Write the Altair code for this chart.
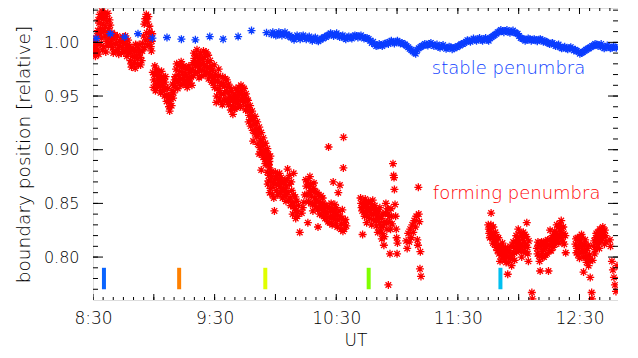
import altair as alt
import pandas as pd

# ---- data (time in minutes after 08:30 UT, relative boundary position) ----
forming_penumbra = [
    (0.3, 0.990), (0.8, 0.995), (1.2, 0.987), (1.7, 1.000), (2.2, 0.993), (2.6, 1.021), (3.0, 1.018),
    (3.3, 1.026), (3.7, 1.013), (4.1, 1.023), (4.5, 1.029), (4.9, 1.017), (5.3, 1.022), (5.7, 1.027),
    (6.1, 1.014), (6.5, 1.024), (6.9, 1.019), (7.3, 1.027), (7.7, 1.013), (8.1, 1.021), (8.5, 1.016),
    (3.5, 0.998), (4.3, 1.004), (5.2, 0.996), (6.0, 1.006), (6.8, 1.001), (7.5, 0.997), (8.3, 1.008),
    (9.0, 1.002), (9.6, 0.995), (10.3, 1.004), (11.0, 0.998), (11.6, 1.000), (12.3, 0.993), (13.0, 0.997),
    (13.7, 1.003), (14.3, 0.995), (15.0, 0.999), (15.7, 1.002), (16.3, 0.994), (17.0, 0.998),
    (17.5, 0.990), (18.0, 0.996), (18.5, 0.983), (19.0, 0.977), (19.5, 0.987), (20.0, 0.993), (20.5, 0.981),
    (21.0, 0.998), (21.5, 0.988), (22.0, 0.985), (22.5, 0.994), (23.0, 0.990), (23.5, 0.979), (24.0, 0.983),
    (24.5, 0.999), (25.0, 1.006), (25.3, 1.017), (25.8, 1.022), (26.3, 1.026), (26.8, 1.019), (27.3, 1.024),
    (27.8, 1.015), (25.5, 0.995), (26.0, 1.002), (26.5, 1.009), (27.0, 0.998), (27.5, 1.004), (28.0, 1.010),
    (28.5, 0.996), (29.0, 1.001),
    (0.5, 1.002), (1.0, 0.997), (1.5, 0.992), (2.0, 1.006), (2.4, 1.011), (2.8, 0.989), (3.2, 1.008),
    (4.0, 1.010), (4.7, 0.993), (5.5, 1.011), (6.3, 0.991), (7.1, 1.009), (7.9, 1.004), (8.7, 0.999),
    (9.3, 1.009), (10.0, 0.990), (10.7, 1.007), (11.3, 0.992), (12.0, 1.006), (12.7, 0.989), (13.3, 1.001),
    (14.0, 0.990), (14.7, 1.005), (15.3, 0.991), (16.0, 1.006), (16.7, 0.987), (17.3, 1.002), (18.2, 0.991),
    (18.8, 0.980), (19.3, 0.995), (20.2, 0.986), (20.8, 0.976), (21.3, 0.992), (22.2, 0.979), (22.8, 0.998),
    (23.3, 0.986), (24.3, 0.992), (28.3, 1.005), (28.8, 0.992), (29.2, 1.008),
    (29.5, 0.972), (30.0, 0.965), (30.5, 0.978), (31.0, 0.961), (31.5, 0.970), (32.0, 0.966), (32.5, 0.973),
    (33.0, 0.959), (33.5, 0.964), (34.0, 0.968), (34.5, 0.961), (35.0, 0.956), (35.5, 0.963), (36.0, 0.958),
    (36.5, 0.951), (37.0, 0.946), (37.5, 0.940), (38.0, 0.943), (38.5, 0.950), (39.0, 0.955), (39.5, 0.948),
    (40.0, 0.960),
    (40.5, 0.968), (41.0, 0.975), (41.5, 0.963), (42.0, 0.970), (42.5, 0.979), (43.0, 0.966), (43.5, 0.982),
    (44.0, 0.972), (44.5, 0.961), (45.0, 0.969), (45.5, 0.976), (46.0, 0.964), (46.5, 0.958), (47.0, 0.967),
    (47.5, 0.972), (48.0, 0.962), (48.5, 0.968), (49.0, 0.975), (49.5, 0.981),
    (50.0, 0.985), (50.5, 0.978), (51.0, 0.988), (51.5, 0.972), (52.0, 0.983), (52.5, 0.976), (53.0, 0.990),
    (53.5, 0.969), (54.0, 0.984), (54.5, 0.992), (55.0, 0.978), (55.5, 0.987), (56.0, 0.973), (56.5, 0.982),
    (57.0, 0.966), (57.5, 0.976), (58.0, 0.970), (58.5, 0.963), (59.0, 0.974), (59.5, 0.967),
    (29.8, 0.958), (30.3, 0.970), (30.8, 0.955), (31.3, 0.975), (31.8, 0.958), (32.3, 0.962), (32.8, 0.969),
    (33.3, 0.953), (33.8, 0.973), (34.3, 0.955), (34.8, 0.966), (35.3, 0.950), (35.8, 0.968), (36.3, 0.945),
    (36.8, 0.957), (37.3, 0.950), (37.8, 0.936), (38.3, 0.947), (38.8, 0.941), (39.3, 0.961), (39.8, 0.953),
    (40.3, 0.965), (40.8, 0.958), (41.3, 0.980), (41.8, 0.957), (42.3, 0.964), (42.8, 0.973), (43.3, 0.960),
    (43.8, 0.977), (44.3, 0.966), (44.8, 0.978), (45.3, 0.962), (45.8, 0.970), (46.3, 0.975), (46.8, 0.961),
    (47.3, 0.978), (47.8, 0.966), (48.3, 0.974), (48.8, 0.960), (49.3, 0.969), (49.8, 0.990), (50.3, 0.972),
    (50.8, 0.982), (51.3, 0.993), (51.8, 0.979), (52.3, 0.967), (52.8, 0.986), (53.3, 0.980), (53.8, 0.974),
    (54.3, 0.980), (54.8, 0.986), (55.3, 0.970), (55.8, 0.991), (56.3, 0.977), (56.8, 0.988), (57.3, 0.971),
    (57.8, 0.983), (58.3, 0.978), (58.8, 0.969), (59.3, 0.962), (59.8, 0.979),
    (60.0, 0.958), (60.5, 0.970), (61.0, 0.950), (61.5, 0.964), (62.0, 0.975), (62.5, 0.955), (63.0, 0.945),
    (63.5, 0.962), (64.0, 0.968), (64.5, 0.952), (65.0, 0.959), (65.5, 0.947), (66.0, 0.965), (66.5, 0.954),
    (67.0, 0.942), (67.5, 0.958), (68.0, 0.937), (68.5, 0.948), (69.0, 0.933), (69.5, 0.952), (70.0, 0.944),
    (70.5, 0.957), (71.0, 0.939), (71.5, 0.950),
    (72.0, 0.958), (72.5, 0.946), (73.0, 0.960), (73.5, 0.953), (74.0, 0.949), (74.5, 0.957), (75.0, 0.944),
    (75.5, 0.952), (76.0, 0.938), (76.5, 0.946), (77.0, 0.932), (77.5, 0.941), (78.0, 0.928), (78.5, 0.936),
    (79.0, 0.908), (79.5, 0.924), (80.0, 0.931), (80.5, 0.919), (81.0, 0.926), (81.5, 0.914), (82.0, 0.921),
    (82.5, 0.909), (83.0, 0.916), (83.5, 0.903), (84.0, 0.911), (84.5, 0.898), (85.0, 0.906), (85.5, 0.893),
    (86.0, 0.901), (86.5, 0.896), (87.0, 0.889), (87.5, 0.894),
    (60.3, 0.964), (60.8, 0.944), (61.3, 0.957), (61.8, 0.969), (62.3, 0.948), (62.8, 0.960), (63.3, 0.952),
    (63.8, 0.942), (64.3, 0.961), (64.8, 0.946), (65.3, 0.966), (65.8, 0.955), (66.3, 0.944), (66.8, 0.961),
    (67.3, 0.950), (67.8, 0.946), (68.3, 0.955), (68.8, 0.941), (69.3, 0.946), (69.8, 0.938), (70.3, 0.950),
    (70.8, 0.946), (71.3, 0.955), (71.8, 0.942), (72.3, 0.952), (72.8, 0.940), (73.3, 0.947), (73.8, 0.958),
    (74.3, 0.944), (74.8, 0.951), (75.3, 0.937), (75.8, 0.947), (76.3, 0.941), (76.8, 0.926), (77.3, 0.936),
    (77.8, 0.922), (78.3, 0.931), (78.8, 0.918), (79.3, 0.929), (79.8, 0.915), (80.3, 0.924), (80.8, 0.912),
    (81.3, 0.905), (81.8, 0.917), (82.3, 0.902), (82.8, 0.898), (83.3, 0.907), (83.8, 0.895), (84.3, 0.904),
    (84.8, 0.891), (85.3, 0.899), (85.8, 0.887), (86.3, 0.892), (86.8, 0.886), (87.3, 0.878),
    (82.0, 0.896), (83.0, 0.881), (84.0, 0.893), (85.0, 0.887), (86.0, 0.879), (86.5, 0.871), (87.0, 0.883),
    (87.5, 0.864), (88.0, 0.875), (88.5, 0.858), (89.0, 0.869), (89.5, 0.843), (90.0, 0.879), (90.5, 0.862),
    (91.0, 0.873), (91.5, 0.867), (92.0, 0.878), (92.5, 0.860), (93.0, 0.869), (93.5, 0.855), (94.0, 0.864),
    (94.5, 0.870), (95.0, 0.858), (95.5, 0.866), (96.0, 0.882), (96.5, 0.853), (97.0, 0.876), (97.5, 0.848),
    (98.0, 0.862), (98.5, 0.840), (99.0, 0.878), (99.5, 0.845), (100.0, 0.836), (100.5, 0.852), (101.0, 0.842),
    (102.0, 0.823),
    (86.2, 0.868), (86.8, 0.876), (87.2, 0.860), (87.8, 0.871), (88.2, 0.880), (88.8, 0.865), (89.2, 0.855),
    (89.8, 0.873), (90.2, 0.868), (90.8, 0.876), (91.2, 0.858), (91.8, 0.872), (92.2, 0.866), (92.8, 0.874),
    (93.2, 0.862), (93.8, 0.870), (94.2, 0.857), (94.8, 0.862), (95.2, 0.852), (95.8, 0.873), (96.2, 0.860),
    (96.8, 0.868), (97.2, 0.855), (97.8, 0.870), (98.2, 0.851), (98.8, 0.858), (99.2, 0.848), (99.8, 0.856),
    (100.2, 0.843), (100.8, 0.838), (101.3, 0.848),
    (103.0, 0.841), (104.0, 0.851), (105.0, 0.872), (105.5, 0.858), (106.0, 0.832), (106.5, 0.866),
    (107.0, 0.875), (107.5, 0.850), (108.0, 0.862), (108.5, 0.843), (109.0, 0.869), (109.5, 0.855),
    (110.0, 0.847), (110.5, 0.860), (111.0, 0.828), (111.5, 0.852), (112.0, 0.845), (112.5, 0.857),
    (113.0, 0.839), (113.5, 0.850), (114.0, 0.843), (114.5, 0.836), (115.0, 0.848), (115.5, 0.841),
    (116.0, 0.833), (116.2, 0.9025), (116.5, 0.846), (117.0, 0.838), (117.5, 0.850), (118.0, 0.830),
    (118.5, 0.870), (119.0, 0.842), (119.5, 0.835), (120.0, 0.846), (120.5, 0.828), (121.0, 0.860),
    (121.8, 0.867), (122.0, 0.838), (122.5, 0.831), (123.0, 0.844), (123.5, 0.883), (123.6, 0.9115),
    (124.0, 0.826), (124.5, 0.835), (125.0, 0.829),
    (103.5, 0.846), (104.5, 0.858), (105.2, 0.866), (105.8, 0.870), (106.3, 0.852), (106.8, 0.860),
    (107.3, 0.868), (107.8, 0.857), (108.3, 0.849), (108.8, 0.864), (109.3, 0.850), (109.8, 0.861),
    (110.3, 0.853), (110.8, 0.844), (111.3, 0.858), (111.8, 0.840), (112.3, 0.850), (112.8, 0.846),
    (113.3, 0.855), (113.8, 0.838), (114.3, 0.848), (114.8, 0.842), (115.3, 0.836), (115.8, 0.847),
    (116.8, 0.832), (117.3, 0.843), (117.8, 0.836), (118.3, 0.845), (118.8, 0.838), (119.3, 0.849),
    (119.8, 0.831), (120.3, 0.840), (120.8, 0.835), (121.3, 0.843), (122.3, 0.826), (122.8, 0.836),
    (123.3, 0.824), (124.3, 0.832),
    (132.0, 0.855), (132.5, 0.846), (133.0, 0.821), (133.5, 0.851), (134.0, 0.838), (134.5, 0.847),
    (135.0, 0.832), (135.5, 0.843), (136.0, 0.852), (136.5, 0.836), (137.0, 0.846), (137.5, 0.830),
    (138.0, 0.853), (138.5, 0.840), (139.0, 0.848), (139.5, 0.834), (140.0, 0.843), (140.5, 0.823),
    (141.0, 0.838), (141.5, 0.846), (142.0, 0.829), (142.5, 0.817), (143.0, 0.840), (143.5, 0.811),
    (144.0, 0.833), (144.5, 0.850), (145.0, 0.826), (145.5, 0.840), (145.7, 0.774), (146.0, 0.833),
    (146.5, 0.803), (147.0, 0.845), (147.5, 0.831), (148.0, 0.887), (148.3, 0.876), (148.5, 0.874),
    (148.7, 0.863), (149.0, 0.849), (149.3, 0.838), (149.6, 0.826), (149.8, 0.818), (150.0, 0.803),
    (150.2, 0.813),
    (132.3, 0.850), (132.8, 0.843), (133.3, 0.847), (133.8, 0.842), (134.3, 0.854), (134.8, 0.840),
    (135.3, 0.849), (135.8, 0.837), (136.3, 0.844), (136.8, 0.850), (137.3, 0.840), (137.8, 0.847),
    (138.3, 0.835), (138.8, 0.845), (139.3, 0.840), (139.8, 0.829), (140.3, 0.836), (140.8, 0.842),
    (141.3, 0.832), (141.8, 0.825), (142.3, 0.836), (142.8, 0.822), (143.3, 0.829), (143.8, 0.819),
    (144.3, 0.841), (144.8, 0.832), (145.3, 0.845), (146.3, 0.838), (146.8, 0.826), (147.2, 0.838),
    (154.5, 0.815), (155.0, 0.808), (155.5, 0.822), (156.0, 0.814), (156.5, 0.826), (157.0, 0.818),
    (157.5, 0.830), (158.0, 0.823), (158.5, 0.834), (159.0, 0.828), (159.5, 0.838), (160.0, 0.816),
    (160.3, 0.811), (160.5, 0.865), (160.7, 0.840), (161.0, 0.833), (161.3, 0.789), (161.5, 0.805),
    (161.8, 0.782),
    (195.0, 0.830), (195.5, 0.822), (196.0, 0.826), (196.4, 0.841), (197.0, 0.818), (197.5, 0.828),
    (198.0, 0.812), (198.5, 0.823), (199.0, 0.815), (199.5, 0.806), (200.0, 0.818), (200.8, 0.796),
    (201.0, 0.810), (201.5, 0.802), (202.0, 0.813), (202.5, 0.805), (203.0, 0.798), (203.5, 0.809),
    (204.0, 0.801), (204.6, 0.784), (205.0, 0.795), (205.5, 0.806), (206.0, 0.799), (206.5, 0.792),
    (207.0, 0.803), (207.5, 0.810), (208.0, 0.797), (208.5, 0.815), (209.0, 0.805), (209.5, 0.819),
    (210.0, 0.808), (210.5, 0.823), (211.0, 0.812), (211.5, 0.800), (212.0, 0.817), (212.5, 0.806),
    (213.0, 0.821), (213.5, 0.811), (214.0, 0.832), (214.5, 0.803), (214.8, 0.796), (215.0, 0.815),
    (216.5, 0.767), (216.8, 0.761),
    (195.3, 0.826), (195.8, 0.818), (196.3, 0.830), (196.8, 0.822), (197.3, 0.813), (197.8, 0.820),
    (198.3, 0.816), (198.8, 0.809), (199.3, 0.819), (199.8, 0.811), (200.3, 0.803), (201.3, 0.807),
    (201.8, 0.799), (202.3, 0.808), (202.8, 0.801), (203.3, 0.803), (203.8, 0.795), (204.3, 0.806),
    (205.3, 0.800), (205.8, 0.810), (206.3, 0.803), (206.8, 0.798), (207.3, 0.814), (207.8, 0.804),
    (208.3, 0.808), (208.8, 0.820), (209.3, 0.812), (209.8, 0.826), (210.3, 0.815), (210.8, 0.806),
    (211.3, 0.820), (211.8, 0.810), (212.3, 0.823), (212.8, 0.814), (213.3, 0.805), (213.8, 0.819),
    (214.3, 0.809),
    (219.0, 0.808), (219.5, 0.814), (220.0, 0.801), (220.6, 0.787), (221.0, 0.810), (221.5, 0.805),
    (222.0, 0.813), (222.5, 0.800), (223.0, 0.808), (223.5, 0.815), (224.0, 0.803), (224.7, 0.787),
    (225.0, 0.811), (225.5, 0.825), (226.0, 0.806), (226.5, 0.814), (227.0, 0.809), (227.5, 0.818),
    (228.0, 0.812), (228.5, 0.822), (229.0, 0.815), (229.5, 0.828), (230.0, 0.819), (230.5, 0.825),
    (231.0, 0.834), (231.5, 0.817), (232.0, 0.828), (232.5, 0.812), (233.0, 0.820), (233.2, 0.804),
    (219.3, 0.803), (219.8, 0.811), (220.3, 0.796), (221.3, 0.814), (221.8, 0.800), (222.3, 0.807),
    (222.8, 0.812), (223.3, 0.802), (223.8, 0.810), (224.3, 0.816), (225.3, 0.806), (225.8, 0.817),
    (226.3, 0.810), (226.8, 0.820), (227.3, 0.813), (227.8, 0.824), (228.3, 0.817), (228.8, 0.830),
    (229.3, 0.820), (229.8, 0.813), (230.3, 0.831), (230.8, 0.822), (231.3, 0.827), (231.8, 0.814),
    (232.3, 0.822),
    (238.0, 0.812), (238.5, 0.804), (239.0, 0.818), (239.5, 0.808), (240.0, 0.799), (240.5, 0.814),
    (241.0, 0.821), (241.5, 0.806), (242.0, 0.786), (242.5, 0.812), (243.0, 0.800), (243.5, 0.795),
    (244.0, 0.808), (244.5, 0.792), (245.0, 0.802), (245.3, 0.781), (246.0, 0.767), (246.2, 0.761),
    (246.5, 0.797), (247.0, 0.810), (247.5, 0.803), (248.0, 0.818), (248.5, 0.809), (249.0, 0.823),
    (249.5, 0.813), (250.0, 0.826), (250.5, 0.815), (251.0, 0.821), (251.5, 0.828), (252.0, 0.819),
    (252.5, 0.825), (253.0, 0.814), (255.0, 0.816), (255.3, 0.810), (256.0, 0.796), (256.5, 0.788),
    (257.0, 0.781), (257.5, 0.774), (258.0, 0.768), (258.5, 0.792),
    (238.3, 0.817), (238.8, 0.808), (239.3, 0.802), (239.8, 0.812), (240.3, 0.805), (240.8, 0.818),
    (241.3, 0.810), (241.8, 0.800), (242.3, 0.805), (242.8, 0.816), (243.3, 0.806), (243.8, 0.800),
    (244.3, 0.811), (244.8, 0.797), (247.3, 0.815), (247.8, 0.807), (248.3, 0.822), (248.8, 0.814),
    (249.3, 0.818), (249.8, 0.808), (250.3, 0.821), (250.8, 0.826), (251.3, 0.817), (251.8, 0.823),
    (252.3, 0.812), (252.8, 0.820),
]

stable_penumbra = [
    (1.6, 1.0036), (8.6, 1.008), (15.6, 1.005), (22.2, 1.008), (29.3, 1.004), (36.5, 1.0045),
    (43.6, 1.003), (50.5, 1.0024), (57.6, 1.0054), (64.2, 1.003), (71.6, 1.0054), (78.2, 1.011),
    (85.6, 1.009),
    (88, 1.0075), (89.5, 1.008), (91, 1.007), (92.5, 1.0085), (94, 1.008), (95.5, 1.0075), (97, 1.0065),
    (98.5, 1.004), (100, 1.005), (101.5, 1.0045), (103, 1.0055), (104.5, 1.004), (106, 1.0045),
    (107.5, 1.003), (109, 1.0035), (110.5, 1.002), (112, 1.0025), (113.5, 1.0035), (115, 1.005),
    (116.5, 1.007), (118, 1.0075), (119.5, 1.007), (121, 1.0065), (122.5, 1.0055), (124, 1.004),
    (125.5, 1.0045), (127, 1.0045), (128.5, 1.0055), (130, 1.006), (131.5, 1.0055), (133, 1.005),
    (134.5, 1.004), (136, 1.003), (137.5, 0.9995), (139, 0.998), (140.5, 0.997), (142, 0.9975),
    (143.5, 0.998), (145, 0.9995), (146.5, 1.0005), (148, 1.0), (149.5, 1.0005), (151, 1.0),
    (152.5, 0.9995), (154, 0.998), (155.5, 0.9955), (157, 0.993), (158.5, 0.9905), (160, 0.993),
    (161.5, 0.9955), (163, 0.997), (164.5, 0.998), (166, 0.9985), (167.5, 0.998), (169, 0.997),
    (170.5, 0.996), (172, 0.9965), (173.5, 0.9955), (175, 0.995), (176.5, 0.9955), (178, 0.9945),
    (179.5, 0.9955), (181, 0.997), (182.5, 0.9985), (184, 1.0005), (185.5, 1.0015), (187, 1.002),
    (188.5, 1.0025), (190, 1.003), (191.5, 1.0025), (193, 1.003), (194.5, 1.0025), (196, 1.004),
    (197.5, 1.006), (199, 1.008), (200.5, 1.010), (202, 1.0105), (203.5, 1.0105), (205, 1.0100),
    (206.5, 1.010), (208, 1.0095), (209.5, 1.008), (211, 1.004), (212.5, 1.003), (214, 1.0025),
    (215.5, 1.003), (217, 1.0025), (218.5, 1.002), (220, 1.0025), (221.5, 1.002), (223, 1.001),
    (224.5, 0.9995), (226, 0.999), (227.5, 0.998), (229, 0.997), (230.5, 0.9955), (232, 0.995),
    (233.5, 0.9945), (235, 0.9945), (236.5, 0.994), (238, 0.993), (239.5, 0.991), (241, 0.990),
    (242.5, 0.992), (244, 0.994), (245.5, 0.9955), (247, 0.997), (248.5, 0.998), (250, 0.997),
    (251.5, 0.9955), (253, 0.9955), (254.5, 0.996), (256, 0.995), (257.5, 0.9955),
    (88.7, 1.0095), (90.2, 1.0065), (91.7, 1.0095), (93.2, 1.0065), (94.7, 1.0095), (96.2, 1.006),
    (97.7, 1.0045), (99.2, 1.0025), (100.7, 1.0065), (102.2, 1.003), (103.7, 1.0065), (105.2, 1.003),
    (106.7, 1.0055), (108.2, 1.0015), (109.7, 1.0045), (111.2, 1.001), (112.7, 1.0035), (114.2, 1.005),
    (115.7, 1.0065), (117.2, 1.0085), (118.7, 1.006), (120.2, 1.0085), (121.7, 1.005), (123.2, 1.0065),
    (124.7, 1.003), (126.2, 1.0055), (127.7, 1.0035), (129.2, 1.0065), (130.7, 1.0045), (132.2, 1.0065),
    (133.7, 1.0035), (135.2, 1.004), (136.7, 1.0015), (138.2, 1.0005), (139.7, 0.9965), (141.2, 0.9985),
    (142.7, 0.9965), (144.2, 0.999), (145.7, 0.9985), (147.2, 1.0015), (148.7, 0.999), (150.2, 1.0015),
    (151.7, 0.999), (153.2, 0.9985), (154.7, 0.9965), (156.2, 0.994), (157.7, 0.9915), (159.2, 0.9895),
    (160.7, 0.9945), (162.2, 0.9965), (163.7, 0.9985), (165.2, 0.997), (166.7, 0.9995), (168.2, 0.9965),
    (169.7, 0.998), (171.2, 0.995), (172.7, 0.9975), (174.2, 0.994), (175.7, 0.996), (177.2, 0.9935),
    (178.7, 0.9955), (180.2, 0.9965), (181.7, 0.9985), (183.2, 0.9995), (184.7, 1.002), (186.2, 1.0005),
    (187.7, 1.0035), (189.2, 1.0015), (190.7, 1.004), (192.2, 1.0015), (193.7, 1.004), (195.2, 1.0015),
    (196.7, 1.005), (198.2, 1.007), (199.7, 1.0095), (201.2, 1.0115), (202.7, 1.0095), (204.2, 1.0115),
    (205.7, 1.0090), (207.2, 1.011), (208.7, 1.0085), (210.2, 1.006), (211.7, 1.0035), (213.2, 1.0015),
    (214.7, 1.0035), (216.2, 1.0015), (217.7, 1.003), (219.2, 1.001), (220.7, 1.003), (222.2, 1.0005),
    (223.7, 1.0005), (225.2, 0.9985), (226.7, 0.9995), (228.2, 0.9965), (229.7, 0.998), (231.2, 0.9945),
    (232.7, 0.996), (234.2, 0.9935), (235.7, 0.9955), (237.2, 0.9925), (238.7, 0.992), (240.2, 0.9895),
    (241.7, 0.991), (243.2, 0.993), (244.7, 0.9945), (246.2, 0.9965), (247.7, 0.9985), (249.2, 0.9965),
    (250.7, 0.9985), (252.2, 0.9945), (253.7, 0.997), (255.2, 0.9945), (256.7, 0.996), (258.2, 0.9950),
]

event_times = [5.4, 42.5, 85.0, 136.0, 201.0]
event_colors = ["#0a64ff", "#ff8000", "#e0ff00", "#80ff00", "#00c0f0"]

x_label_values = [0, 60, 120, 180, 240]          # 8:30 ... 12:30
x_major_ticks = [0, 30, 60, 90, 120, 150, 180, 210, 240]
x_minor_ticks = list(range(0, 260, 5))
y_label_values = [0.80, 0.85, 0.90, 0.95, 1.00]
y_minor_ticks = [round(0.77 + 0.01 * i, 2) for i in range(27)]

XMIN, XMAX = 0, 259
YMIN, YMAX = 0.76, 1.032

RED = "#ff0000"
BLUE = "#0a3cff"
INK = "#000000"
FONT = "DejaVu Sans"
ASTER = "M-1,0L1,0M0,-1L0,1M-0.7,-0.7L0.7,0.7M-0.7,0.7L0.7,-0.7"

red_df = pd.DataFrame(forming_penumbra, columns=["t", "v"])
blue_df = pd.DataFrame(stable_penumbra, columns=["t", "v"])
ev_df = pd.DataFrame({"t": event_times, "c": event_colors})

xscale = alt.Scale(domain=[XMIN, XMAX], nice=False, zero=False)
yscale = alt.Scale(domain=[YMIN, YMAX], nice=False, zero=False)

xaxis = alt.Axis(
    values=x_label_values, ticks=False, domain=False, grid=False, labelFlush=False, labelOverlap=False,
    labelExpr="floor((datum.value+510)/60) + ':' + (((datum.value+510)%60)<10 ? '0' : '') + ((datum.value+510)%60)",
    labelFontSize=17, labelFont=FONT, labelFontWeight=300, labelColor=INK, labelPadding=10,
    title="UT", titleFontSize=17, titleFont=FONT, titleFontWeight=300, titleColor=INK, titlePadding=6,
)
yaxis = alt.Axis(
    values=y_label_values, ticks=False, domain=False, grid=False, format=".2f",
    labelFlush=False, labelOverlap=False,
    labelFontSize=16, labelFont=FONT, labelFontWeight=300, labelColor=INK, labelPadding=14,
    title="boundary position [relative]", titleFontSize=18.5, titleFont=FONT,
    titleFontWeight=300, titleColor=INK, titlePadding=10,
)


def X(field):
    return alt.X(field, scale=xscale, axis=xaxis)


def Y(field):
    return alt.Y(field, scale=yscale, axis=yaxis)


red = alt.Chart(red_df).mark_point(
    shape=ASTER, filled=False, size=64, strokeWidth=1.3, color=RED, opacity=1, clip=True
).encode(x=X("t:Q"), y=Y("v:Q"))

blue = alt.Chart(blue_df).mark_point(
    shape=ASTER, filled=False, size=64, strokeWidth=1.3, color=BLUE, opacity=1, clip=True
).encode(x=X("t:Q"), y=Y("v:Q"))

events = alt.Chart(ev_df).mark_rule(strokeWidth=4, strokeCap="butt").encode(
    x=X("t:Q"),
    y=alt.YDatum(0.77, scale=yscale, axis=yaxis), y2=alt.Y2Datum(0.79),
    color=alt.Color("c:N", scale=None, legend=None),
)

labels = alt.Chart(pd.DataFrame({
    "t": [205.0, 209.0], "v": [0.975, 0.859],
    "txt": ["stable  penumbra", "forming  penumbra"], "c": [BLUE, RED],
})).mark_text(fontSize=18, font=FONT, fontWeight=300, align="center", baseline="middle").encode(
    x=X("t:Q"), y=Y("v:Q"),
    text="txt:N", color=alt.Color("c:N", scale=None, legend=None),
)


def xticks(vals, length, ypos):
    return alt.Chart(pd.DataFrame({"t": vals})).mark_tick(
        orient="vertical", size=2 * length, thickness=1, color="#000", clip=True, opacity=1
    ).encode(x=X("t:Q"), y=alt.YDatum(ypos, scale=yscale, axis=yaxis))


def yticks(vals, length, xpos):
    return alt.Chart(pd.DataFrame({"v": vals})).mark_tick(
        orient="horizontal", size=2 * length, thickness=1, color="#000", clip=True, opacity=1
    ).encode(y=Y("v:Q"), x=alt.XDatum(xpos, scale=xscale, axis=xaxis))


ticks = [
    xticks(x_major_ticks, 6, YMIN), xticks(x_major_ticks, 6, YMAX),
    xticks(x_minor_ticks, 3, YMIN), xticks(x_minor_ticks, 3, YMAX),
    yticks(y_label_values, 10, XMIN), yticks(y_label_values, 10, XMAX),
    yticks(y_minor_ticks, 5, XMIN), yticks(y_minor_ticks, 5, XMAX),
]

chart = alt.layer(red, blue, events, labels, *ticks).properties(
    width=525, height=292,
    padding={"top": 0, "left": 6, "right": 0, "bottom": 0},
).configure_view(stroke="#000", strokeWidth=1.2).configure(background="white")

chart.save("out.html", embed_options={"renderer": "svg", "actions": False})
